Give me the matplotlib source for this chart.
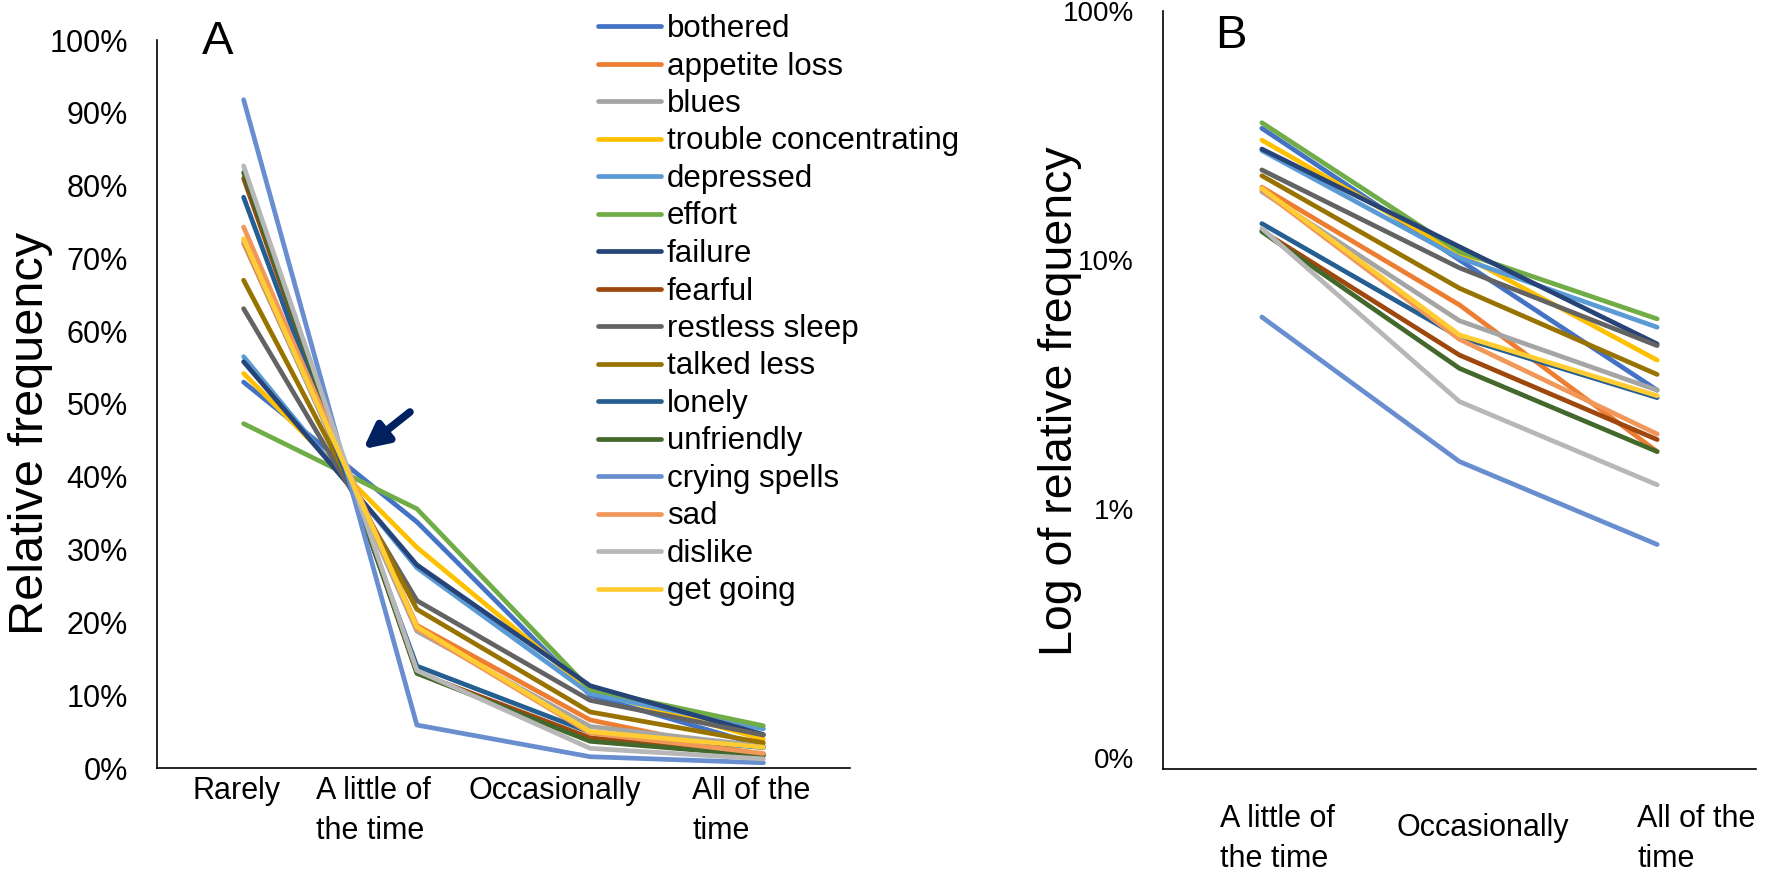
import matplotlib
matplotlib.use("Agg")
import matplotlib.pyplot as plt

plt.rcParams['font.family'] = ['Liberation Sans', 'DejaVu Sans']

# === Data (relative frequency in %) ===
symptoms = ["bothered", "appetite loss", "blues", "trouble concentrating",
            "depressed", "effort", "failure", "fearful", "restless sleep",
            "talked less", "lonely", "unfriendly", "crying spells", "sad",
            "dislike", "get going"]

rarely = [53.0, 72.1, 72.5, 54.2, 56.5, 47.3, 55.8, 81.0,
          63.1, 67.0, 78.4, 81.8, 91.8, 74.3, 82.7, 72.7]
little = [33.8, 19.6, 18.8, 30.3, 27.5, 35.6, 27.9, 13.1,
          23.0, 21.8, 14.0, 13.0, 5.9, 19.1, 13.4, 19.4]
occasionally = [10.0, 6.6, 5.7, 10.6, 10.2, 10.8, 11.3, 4.15,
                9.3, 7.7, 4.9, 3.67, 1.55, 4.8, 2.7, 5.0]
all_time = [3.0, 1.7, 3.0, 3.96, 5.37, 5.8, 4.6, 1.9,
            4.53, 3.47, 2.8, 1.7, 0.72, 2.0, 1.25, 2.85]

cats_a = ["Rarely", "A little of\nthe time", "Occasionally", "All of the\ntime"]
cats_b = ["A little of\nthe time", "Occasionally", "All of the\ntime"]

colors = ["#4472C4", "#ED7D31", "#A5A5A5", "#FFC000", "#5B9BD5", "#70AD47",
          "#264478", "#9E480E", "#636363", "#997300", "#255E91", "#43682B",
          "#698ED0", "#F1975A", "#B7B7B7", "#FFCD33"]

W, H = 1770, 874
fig = plt.figure(figsize=(W / 100, H / 100), dpi=100)
ax_a = fig.add_axes([157 / W, 1 - 768 / H, 693 / W, 728 / H])
ax_b = fig.add_axes([1163 / W, 1 - 769 / H, 593 / W, 758 / H])

lw = 3.4
for i, name in enumerate(symptoms):
    ax_a.plot(range(4), [rarely[i], little[i], occasionally[i], all_time[i]],
              color=colors[i], lw=lw, label=name,
              solid_capstyle='round', solid_joinstyle='round')
    ax_b.plot(range(3), [little[i], occasionally[i], all_time[i]],
              color=colors[i], lw=lw,
              solid_capstyle='round', solid_joinstyle='round')

# --- panel A ---
ax_a.set_xlim(-0.5, 3.5)
ax_a.set_ylim(0, 100)
ax_a.set_yticks(range(0, 101, 10))
ax_a.set_yticklabels([f"{v}%" for v in range(0, 101, 10)])
ax_a.set_xticks([])
ax_a.set_ylabel("Relative frequency", fontsize=35)
ax_a.yaxis.set_label_coords(-0.15, 0.46)
ax_a.tick_params(axis='y', labelsize=22)

label_x_a = [-0.295, 0.42, 1.30, 2.59]
for lx, txt in zip(label_x_a, cats_a):
    ax_a.text(lx, -0.011, txt, transform=ax_a.get_xaxis_transform(),
              ha='left', va='top', fontsize=22, linespacing=1.45)

# arrow pointing at the crossing point
ax_a.annotate("", xy=(0.69, 43.8), xytext=(0.96, 48.9),
              arrowprops=dict(arrowstyle='-|>', color='#002060', lw=5.5,
                              mutation_scale=36, shrinkA=0, shrinkB=0))

# --- panel B ---
ax_b.set_yscale('log')
ax_b.set_xlim(-0.5, 2.5)
ax_b.set_ylim(0.0903, 100)
ax_b.set_yticks([0.1, 1, 10, 100])
ax_b.set_yticklabels(["0%", "1%", "10%", "100%"])
ax_b.minorticks_off()
ax_b.set_xticks([])
ax_b.set_ylabel("Log of relative frequency", fontsize=33.5)
ax_b.yaxis.set_label_coords(-0.137, 0.485)
ax_b.tick_params(axis='y', labelsize=20)

label_x_b = [-0.21, 0.68, 1.90]
label_y_b = [-0.046, -0.058, -0.046]
for lx, ly, txt in zip(label_x_b, label_y_b, cats_b):
    ax_b.text(lx, ly, txt, transform=ax_b.get_xaxis_transform(),
              ha='left', va='top', fontsize=22, linespacing=1.43,
              clip_on=False)

for ax in (ax_a, ax_b):
    for side in ("top", "right"):
        ax.spines[side].set_visible(False)
    for side in ("left", "bottom"):
        ax.spines[side].set_linewidth(1.2)
        ax.spines[side].set_color("black")
    ax.tick_params(axis='y', length=0, pad=21)

fig.text(218 / W, 1 - 42 / H, "A", fontsize=34, ha='center', va='center')
fig.text(1231 / W, 1 - 36 / H, "B", fontsize=34, ha='center', va='center')

handles, labels = ax_a.get_legend_handles_labels()
fig.legend(handles, labels, loc='upper left', bbox_to_anchor=(598 / W, 1 - 14 / H),
           frameon=False, fontsize=22.5, handlelength=2.0, handletextpad=0.2,
           labelspacing=0.24, borderpad=0, borderaxespad=0)

fig.savefig("out.png", dpi=100)
